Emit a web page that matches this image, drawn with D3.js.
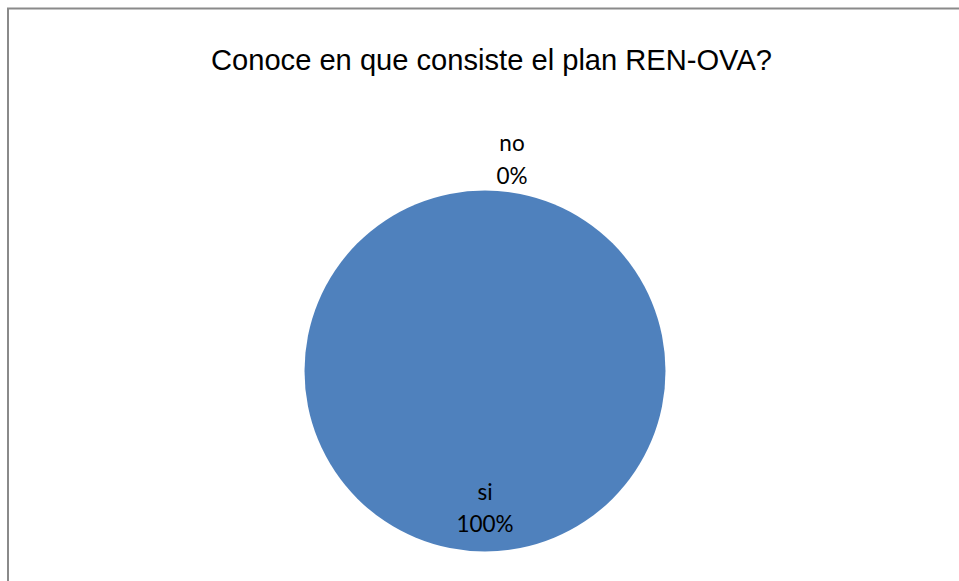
<!DOCTYPE html>
<html>
<head>
<meta charset="utf-8">
<script src="https://cdn.jsdelivr.net/npm/d3@7"></script>
<style>
  html, body { margin: 0; padding: 0; background: #fff; }
  svg { display: block; }
</style>
</head>
<body>
<svg id="chart" width="959" height="581"></svg>
<script>
const title = "Conoce en que consiste el plan REN-OVA?";
const categories = ["si", "no"];
const values = [100, 0];
const colors = ["#4F81BD", "#C0504D"];

const W = 959, H = 581;
const svg = d3.select("#chart");

// chart frame (left and top edges visible)
svg.append("path")
  .attr("d", `M8,${H} L8,8.5 L${W},8.5`)
  .attr("fill", "none")
  .attr("stroke", "#8a8a8a")
  .attr("stroke-width", 2);

svg.append("text")
  .attr("x", 491.5)
  .attr("y", 69.5)
  .attr("text-anchor", "middle")
  .attr("font-family", "Liberation Sans, Arial, sans-serif")
  .attr("font-size", 29)
  .attr("textLength", 561)
  .attr("lengthAdjust", "spacingAndGlyphs")
  .attr("fill", "#000")
  .text(title);

const cx = 485, cy = 371, r = 180.5;
const g = svg.append("g").attr("transform", `translate(${cx},${cy})`);

const data = categories.map((c, i) => ({ cat: c, value: values[i], color: colors[i] }));
const total = d3.sum(values);
const pie = d3.pie().sort(null).value(d => d.value);
const arcs = pie(data);
const arc = d3.arc().innerRadius(0).outerRadius(r);

g.selectAll("path.slice")
  .data(arcs.filter(a => a.endAngle - a.startAngle > 0))
  .join("path")
  .attr("class", "slice")
  .attr("d", arc)
  .attr("fill", d => d.data.color);

const insideArc = d3.arc().innerRadius(r * 0.74).outerRadius(r * 0.74);
const outsideArc = d3.arc().innerRadius(r * 1.19).outerRadius(r * 1.19);
const pct = d3.format(".0%");

const labels = g.selectAll("g.lbl")
  .data(arcs)
  .join("g")
  .attr("class", "lbl")
  .attr("transform", d => {
    const isZero = d.endAngle - d.startAngle === 0;
    const [x, y] = (isZero ? outsideArc : insideArc).centroid(d);
    return `translate(${x + (isZero ? 27 : 0)},${y})`;
  });

labels.append("text")
  .attr("text-anchor", "middle")
  .attr("font-family", "Lato, Open Sans, sans-serif")
  .attr("font-size", 22.5)
  .attr("fill", "#000")
  .selectAll("tspan")
  .data(d => [d.data.cat, pct(d.data.value / total)])
  .join("tspan")
  .attr("x", 0)
  .attr("y", (d, i) => i === 0 ? -5 : 27.5)
  .text(d => d);
</script>
</body>
</html>
